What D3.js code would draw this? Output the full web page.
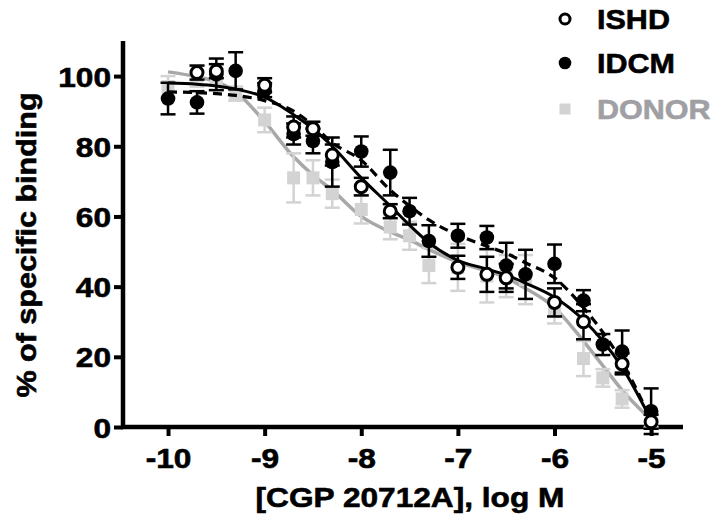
<!DOCTYPE html>
<html><head><meta charset="utf-8">
<script src="https://cdn.jsdelivr.net/npm/d3@7"></script>
<style>body{margin:0;background:#fff}svg{display:block}text{font-family:Arial,"Liberation Sans",sans-serif;font-weight:bold}</style>
</head><body><svg id="c" width="716" height="517"></svg>
<script>
const xs = [-10,-9.7,-9.5,-9.3,-9,-8.7,-8.5,-8.3,-8,-7.7,-7.5,-7.3,-7,-6.7,-6.5,-6.3,-6,-5.7,-5.5,-5.3,-5];
const ishd = [null,101,101.4,null,97.4,85.5,85,77.5,68.5,61.5,null,null,45.5,43.5,42.5,null,35.5,30,null,18,1.5];
const ishdErr = [0,2,2,0,2,3,2,3,2.5,2,0,0,3.3,5,4,0,4,5,0,3,2];
const idcm = [93.6,92.5,100.5,101.5,96,83.5,81.5,75.5,78.5,72.5,61.5,53,54.5,54,46,43.5,46.5,36,23.5,21.5,4.5];
const idcmErr = [4.5,3.2,4.5,5.3,2,3,3.5,7,4.3,6.5,3.8,4.5,3.4,3.3,6.5,7,5.5,3,3,6,6.5];
const donor = [97,100,99,95,87.5,71,71,66.5,62,57,54.5,46,45.5,43,43,42,33,19.5,14,8,2];
const donorErr = [3,3,3,2,3.5,7,5,4,4,3.5,4,5,6.7,7.5,6,7,3.5,5,2.5,2.5,2];
// fitted curves
const fitX = [-10,-9.7,-9.5,-9.3,-9,-8.7,-8.5,-8.3,-8,-7.7,-7.5,-7.3,-7,-6.7,-6.5,-6.3,-6,-5.7,-5.5,-5.3,-5];
const fitIshd = [98,97.7,97.2,96.3,94,89,85,80,71,63,57.5,52.5,47.5,45,43.3,41,37,30.5,24.5,17,2];
const fitIdcm = [95.5,95.3,95,94.5,93,90,86,81,76,67.5,63,59,54.7,51.5,49.5,46.8,42.5,34,27,18.5,2];
const fitDonor = [101.2,99.8,98.4,95.5,87,77,71.8,67.5,60,55.6,53.3,50.6,47,44.5,42.5,39.5,34,24.5,17.5,10.5,2];
const xTicks = [-10,-9,-8,-7,-6,-5];
const yTicks = [0,20,40,60,80,100];
const legendNames = ["ISHD","IDCM","DONOR"];

const svg = d3.select("#c");
const x = d3.scaleLinear().domain([-10.466,-4.67]).range([123,683]);
const y = d3.scaleLinear().domain([0,110]).range([427,41]);
function stretch(sel,f){ f=f||1.13; sel.each(function(){ const w=this.getComputedTextLength(); d3.select(this).attr("textLength",w*f).attr("lengthAdjust","spacingAndGlyphs"); }); }
function heavy(sel,c){ sel.attr("stroke",c||"#000").attr("stroke-width",0.6); }

// axes
const xa = svg.append("g").attr("transform","translate(0,427)")
  .call(d3.axisBottom(x).tickValues(xTicks).tickFormat(d=>String(d)).tickSize(9).tickPadding(8));
const ya = svg.append("g").attr("transform","translate(123,0)")
  .call(d3.axisLeft(y).tickValues(yTicks).tickSize(9).tickPadding(3));
[xa,ya].forEach(a=>{a.select(".domain").attr("stroke","#000").attr("stroke-width",4.5);
  a.selectAll(".tick line").attr("stroke","#000").attr("stroke-width",4);
  a.selectAll(".tick text").attr("fill","#000").style("font-size","28px").style("font-family","Arial,'Liberation Sans',sans-serif").style("font-weight","bold").call(heavy);});
xa.select(".domain").attr("d",`M${x.range()[0]-2},0H${x.range()[1]}`);
ya.select(".domain").attr("d",`M0,${y.range()[0]+2}V${y.range()[1]}`);
xa.selectAll(".tick text").attr("dy","0.85em").call(stretch);
ya.selectAll(".tick text").attr("dy","0.36em").call(stretch);

svg.append("text").attr("x",410).attr("y",507).attr("text-anchor","middle").style("font-size","28px").text("[CGP 20712A], log M").call(stretch).call(heavy);
svg.append("text").attr("transform","translate(36,245) rotate(-90)").attr("text-anchor","middle").style("font-size","27px").text("% of specific binding").call(stretch).call(heavy);

const line = d3.line().x((d,i)=>x(fitX[i])).y(d=>y(d)).curve(d3.curveMonotoneX);
svg.append("path").attr("d",line(fitDonor)).attr("fill","none").attr("stroke","#a8a8a8").attr("stroke-width",3.5);

function errbars(vals,errs,color,w){
  const g = svg.append("g").attr("stroke",color).attr("stroke-width",w);
  xs.forEach((xv,i)=>{
    if(vals[i]==null) return;
    const cx=x(xv), y1=y(vals[i]+errs[i]), y2=y(vals[i]-errs[i]);
    g.append("line").attr("x1",cx).attr("x2",cx).attr("y1",y1).attr("y2",y2);
    g.append("line").attr("x1",cx-7.5).attr("x2",cx+7.5).attr("y1",y1).attr("y2",y1);
    g.append("line").attr("x1",cx-7.5).attr("x2",cx+7.5).attr("y1",y2).attr("y2",y2);
  });
}
const pts = v => v.map((d,i)=>({x:xs[i],v:d})).filter(p=>p.v!=null);
errbars(donor,donorErr,"#d3d3d3",2.5);
svg.append("g").selectAll("rect").data(pts(donor)).join("rect")
  .attr("x",p=>x(p.x)-6.5).attr("y",p=>y(p.v)-6.5).attr("width",13).attr("height",13).attr("fill","#d3d3d3");

svg.append("path").attr("d",line(fitIshd)).attr("fill","none").attr("stroke","#000").attr("stroke-width",3);
svg.append("path").attr("d",line(fitIdcm)).attr("fill","none").attr("stroke","#000").attr("stroke-width",3.2).attr("stroke-dasharray","9,6");

errbars(idcm,idcmErr,"#000",2.5);
svg.append("g").selectAll("circle").data(pts(idcm)).join("circle")
  .attr("cx",p=>x(p.x)).attr("cy",p=>y(p.v)).attr("r",7.3).attr("fill","#000");
errbars(ishd,ishdErr,"#000",2.5);
svg.append("g").selectAll("circle").data(pts(ishd)).join("circle")
  .attr("cx",p=>x(p.x)).attr("cy",p=>y(p.v)).attr("r",6).attr("fill","#fff").attr("stroke","#000").attr("stroke-width",3);

// legend
const ly=[19,63,109], lx=565;
svg.append("circle").attr("cx",lx).attr("cy",ly[0]).attr("r",5).attr("fill","#fff").attr("stroke","#000").attr("stroke-width",3);
svg.append("circle").attr("cx",lx).attr("cy",ly[1]).attr("r",6.3).attr("fill","#000");
svg.append("rect").attr("x",lx-5.5).attr("y",ly[2]-5.5).attr("width",11).attr("height",11).attr("fill","#d3d3d3");
const lc=["#000","#000","#a0a0a4"];
legendNames.forEach((n,i)=>svg.append("text").attr("x",597).attr("y",ly[i]).attr("dy","0.36em").attr("fill",lc[i]).style("font-size","28px").text(n).call(stretch,1.09).call(heavy,lc[i]));
</script></body></html>
